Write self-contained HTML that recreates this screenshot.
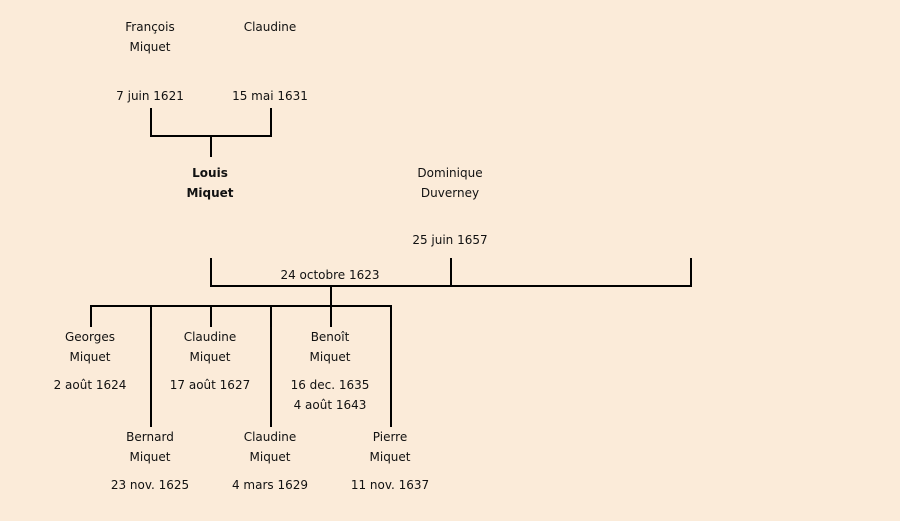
<!DOCTYPE html>
<html><head><meta charset="utf-8"><style>
html,body{margin:0;padding:0;background:#fbebd9;}
svg{display:block}
text{font-family:"DejaVu Sans","Liberation Sans",sans-serif;font-size:12px;fill:#111;text-anchor:middle;dominant-baseline:central}
.b{font-weight:bold}
</style></head><body>
<svg width="900" height="521" viewBox="0 0 900 521">
<rect width="900" height="521" fill="#fbebd9"/>
<g stroke="#000" stroke-width="2" fill="none">
<path d="M151 108V136M271 108V136M150 136H272M211 136V157"/>
<path d="M211 258V286M451 258V286M691 258V286M210 286H692M331 286V306"/>
<path d="M90 306H392M91 306V327M151 306V427M211 306V327M271 306V427M331 306V327M391 306V427"/>
</g>
<text x="150" y="27">François</text><text x="150" y="47">Miquet</text>
<text x="270" y="27">Claudine</text>
<text x="150" y="96">7 juin 1621</text><text x="270" y="96">15 mai 1631</text>
<text class="b" x="210" y="173">Louis</text><text class="b" x="210" y="193">Miquet</text>
<text x="450" y="173">Dominique</text><text x="450" y="193">Duverney</text>
<text x="450" y="240">25 juin 1657</text>
<text x="330" y="275">24 octobre 1623</text>
<text x="90" y="337">Georges</text><text x="90" y="357">Miquet</text><text x="90" y="385">2 août 1624</text>
<text x="210" y="337">Claudine</text><text x="210" y="357">Miquet</text><text x="210" y="385">17 août 1627</text>
<text x="330" y="337">Benoît</text><text x="330" y="357">Miquet</text><text x="330" y="385">16 dec. 1635</text><text x="330" y="405">4 août 1643</text>
<text x="150" y="437">Bernard</text><text x="150" y="457">Miquet</text><text x="150" y="485">23 nov. 1625</text>
<text x="270" y="437">Claudine</text><text x="270" y="457">Miquet</text><text x="270" y="485">4 mars 1629</text>
<text x="390" y="437">Pierre</text><text x="390" y="457">Miquet</text><text x="390" y="485">11 nov. 1637</text>
</svg>
</body></html>
